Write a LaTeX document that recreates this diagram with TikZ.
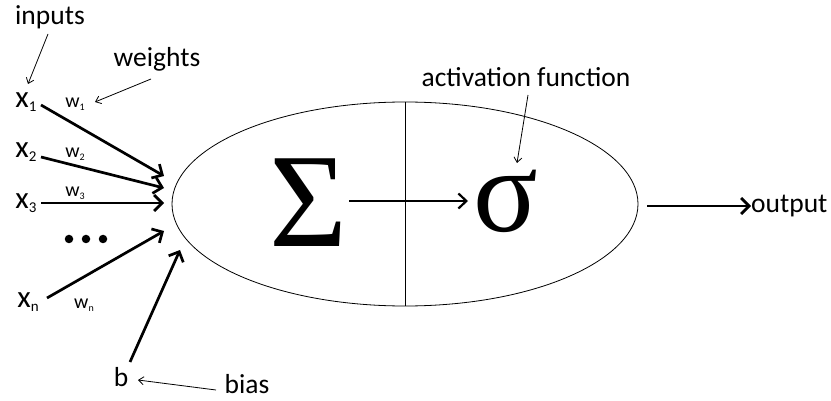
\documentclass[tikz,border=0pt]{standalone}
\usepackage{fontspec}
\setmainfont{Carlito}
\newfontfamily\serifgreek{Liberation Serif}
\usetikzlibrary{arrows.meta,shapes.geometric}
\newcommand{\lbl}{\fontsize{27.5}{30}\selectfont}
\newcommand{\xsub}[1]{{\fontsize{15}{15}\selectfont\raisebox{-4pt}{#1}}}
\newcommand{\wsub}[1]{{\fontsize{10}{10}\selectfont\raisebox{-3pt}{#1}}}
\tikzset{
  txt/.style={inner sep=0pt, font=\lbl},
  xtxt/.style={inner sep=0pt, font=\fontsize{31}{32}\selectfont},
  wtxt/.style={inner sep=0pt, font=\fontsize{20}{21}\selectfont},
  thick arrow/.style={line width=2.7pt, -{Straight Barb[length=8pt,width=16pt,line width=2.7pt]}},
  thin arrow/.style={line width=0.8pt, -{Straight Barb[length=5pt,width=8pt,line width=0.8pt]}},
  dot/.style={circle, fill=black, inner sep=0pt, minimum size=8.5pt}
}
\begin{document}
\begin{tikzpicture}[x=1pt,y=-1pt]
\useasboundingbox (0,0) rectangle (831,401);
% neuron
\node[ellipse, draw, line width=0.8pt, minimum width=466pt, minimum height=204pt, inner sep=0pt] (neuron) at (405,204) {};
\draw[line width=0.8pt] (neuron.north) -- (neuron.south);
\node[inner sep=0pt, font=\serifgreek\fontsize{134}{134}\selectfont] (sum) at (308,203) {Σ};
\node[inner sep=0pt, font=\serifgreek\fontsize{120}{120}\selectfont] (sig) at (506,201) {σ};
\coordinate (sumR) at (349,201);
\coordinate (sigL) at (468,201);
\draw[line width=2.2pt, -{Straight Barb[length=8pt,width=15pt,line width=2.2pt]}] (sumR) -- (sigL);
% inputs
\node[xtxt] (x1) at (26,102) {x\xsub{1}};
\node[xtxt] (x2) at (26,152) {x\xsub{2}};
\node[xtxt] (x3) at (26,203) {x\xsub{3}};
\node[xtxt] (xn) at (28,302) {x\xsub{n}};
\node[txt] (b) at (121,377) {b};
\node[dot] (d1) at (69,239) {};
\node[dot] (d2) at (86,239) {};
\node[dot] (d3) at (103,239) {};
% weights
\node[wtxt] (w1) at (75,104) {w\wsub{1}};
\node[wtxt] (w2) at (75,154) {w\wsub{2}};
\node[wtxt] (w3) at (75,193) {w\wsub{3}};
\node[wtxt] (wn) at (84,305) {w\wsub{n}};
% arrow endpoints
\coordinate (s1) at (41,105);
\coordinate (s2) at (41,157);
\coordinate (s3) at (41,203);
\coordinate (sn) at (47,298);
\coordinate (sb) at (130,362);
\coordinate (e1) at (164,176);
\coordinate (e2) at (164,188);
\coordinate (e3) at (164,203);
\coordinate (en) at (164,231);
\coordinate (eb) at (180,250);
\draw[thick arrow] (s1) -- (e1);
\draw[thick arrow] (s2) -- (e2);
\draw[thick arrow] (s3) -- (e3);
\draw[thick arrow] (sn) -- (en);
\draw[thick arrow] (sb) -- (eb);
% output
\coordinate (oS) at (647,206);
\node[txt, anchor=west] (out) at (751,206) {output};
\draw[thick arrow] (oS) -- (out.west);
% annotations
\node[txt] (inputs) at (50,17) {inputs};
\node[txt] (weights) at (157,59) {weights};
\node[txt] (act) at (526,77) {activation function};
\node[txt] (bias) at (247,384) {bias};
\coordinate (ia) at (48,34);
\coordinate (ib) at (28,84);
\coordinate (wa) at (151,79);
\coordinate (wb) at (95,102);
\coordinate (aa) at (528,95);
\coordinate (ab) at (517,163);
\coordinate (ba) at (216,390);
\coordinate (bb) at (138,380);
\draw[thin arrow] (ia) -- (ib);
\draw[thin arrow] (wa) -- (wb);
\draw[thin arrow] (aa) -- (ab);
\draw[thin arrow] (ba) -- (bb);
\end{tikzpicture}
\end{document}
